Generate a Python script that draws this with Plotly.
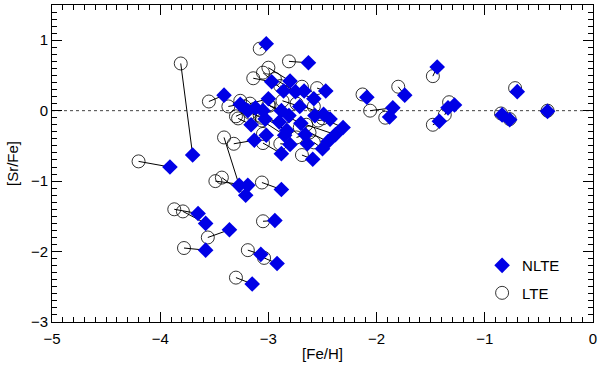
import plotly.graph_objects as go

# [Fe/H] and [Sr/Fe] for each star: LTE (open circles) and NLTE (blue diamonds)
feh_lte = [-3.81, -4.20, -3.41, -3.49, -3.43, -3.06, -3.87, -3.79, -3.56, -3.78,
           -3.30, -3.05, -3.19, -3.04, -1.48, -1.80, -1.92, -2.06, -2.13, -1.48,
           -1.37, -1.33, -0.85, -0.77, -0.72, -0.42,
           -3.08, -2.81, -3.00, -3.14, -3.55, -3.37, -3.30, -3.17, -3.05, -2.94,
           -2.69, -2.55, -2.89, -2.87, -3.00, -2.99, -3.26, -3.22, -3.17, -3.28,
           -3.06, -2.83, -2.58, -2.74, -2.54, -2.50, -2.65, -2.71, -2.58, -2.62,
           -2.74, -2.89, -3.06, -3.08, -3.05, -3.32, -3.05, -2.69]
srfe_lte = [0.67, -0.72, -0.38, -1.00, -0.95, -1.02, -1.40, -1.43, -1.80, -1.95,
            -2.37, -1.57, -1.98, -2.09, 0.49, 0.34, -0.10, 0.00, 0.23, -0.20,
            -0.06, 0.12, -0.04, -0.12, 0.32, 0.00,
            0.88, 0.70, 0.61, 0.46, 0.13, 0.06, -0.08, 0.10, 0.54, 0.45,
            0.34, 0.32, 0.35, 0.14, 0.08, 0.07, 0.14, 0.06, -0.03, -0.11,
            -0.10, -0.08, 0.06, 0.10, -0.14, -0.11, -0.20, -0.24, -0.45, -0.31,
            -0.38, -0.47, -0.14, -0.07, -0.33, -0.47, -0.46, -0.63]

feh_nlte = [-3.70, -3.91, -3.27, -3.19, -3.21, -2.88, -3.65, -3.58, -3.36, -3.58,
            -3.15, -2.94, -3.07, -2.92, -1.44, -1.74, -1.88, -1.85, -2.09, -1.42,
            -1.34, -1.28, -0.84, -0.77, -0.70, -0.42,
            -3.02, -2.63, -2.80, -2.97, -3.41, -3.26, -3.19, -3.00, -2.86, -2.75,
            -2.67, -2.47, -2.58, -2.71, -2.88, -2.81, -3.12, -3.05, -3.03, -3.16,
            -2.90, -2.70, -2.57, -2.49, -2.43, -2.31, -2.38, -2.45, -2.50, -2.64,
            -2.66, -2.80, -2.85, -2.83, -3.02, -3.13, -2.88, -2.59]
srfe_nlte = [-0.63, -0.80, -1.06, -1.06, -1.20, -1.12, -1.46, -1.60, -1.69, -1.98,
             -2.46, -1.56, -2.04, -2.17, 0.62, 0.22, -0.09, 0.04, 0.19, -0.15,
             0.04, 0.08, -0.06, -0.13, 0.27, -0.01,
             0.95, 0.68, 0.42, 0.41, 0.22, 0.09, 0.00, 0.17, 0.28, 0.27,
             0.28, 0.28, 0.17, 0.06, 0.00, -0.07, 0.04, 0.00, -0.12, -0.20,
             -0.16, -0.18, -0.07, -0.05, -0.12, -0.24, -0.34, -0.44, -0.54, -0.47,
             -0.34, -0.48, -0.35, -0.28, -0.35, -0.42, -0.61, -0.69]

x_ticks = [-5, -4, -3, -2, -1, 0]
y_ticks = [-3, -2, -1, 0, 1]

# connecting segments LTE -> NLTE
seg_x, seg_y = [], []
for a, b, c, d in zip(feh_lte, feh_nlte, srfe_lte, srfe_nlte):
    seg_x += [a, b, None]
    seg_y += [c, d, None]

fig = go.Figure()
fig.add_trace(go.Scatter(x=seg_x, y=seg_y, mode="lines",
                         line=dict(color="black", width=1), showlegend=False,
                         hoverinfo="skip"))
fig.add_trace(go.Scatter(x=feh_lte, y=srfe_lte, mode="markers", name="LTE",
                         legendrank=2, legendgroup="lte",
                         marker=dict(symbol="circle-open", size=13,
                                     color="black", line=dict(width=0.8))))
fig.add_trace(go.Scatter(x=feh_nlte, y=srfe_nlte, mode="markers", name="NLTE",
                         legendrank=1, legendgroup="nlte",
                         marker=dict(symbol="diamond", size=12, color="#0000e6",
                                     line=dict(width=0))))

fig.add_shape(type="line", x0=-5, x1=0, y0=0, y1=0, layer="below",
              line=dict(color="#444444", width=1, dash="dot"))

axis_style = dict(showgrid=False, zeroline=False, showline=True, linecolor="black",
                  linewidth=1, mirror="allticks", ticks="inside", ticklen=10,
                  tickcolor="black", tickfont=dict(size=15, color="black"),
                  automargin=False,
                  minor=dict(dtick=0.1, ticks="inside", ticklen=5, tickcolor="black",
                             showgrid=False))

fig.update_xaxes(range=[-5, 0], tickvals=x_ticks, ticklabelstandoff=3,
                 title=dict(text="[Fe/H]", standoff=2, font=dict(size=15, color="black")),
                 **axis_style)
fig.update_yaxes(range=[-3, 1.5], tickvals=y_ticks,
                 title=dict(text="[Sr/Fe]", standoff=8, font=dict(size=15, color="black")),
                 **axis_style)

fig.update_layout(
    width=600, height=367,
    margin=dict(l=52, r=7, t=5, b=45),
    plot_bgcolor="white", paper_bgcolor="white",
    font=dict(family="Liberation Sans, Arial, sans-serif", size=15, color="black"),
    legend=dict(x=0.795, y=0.23, xanchor="left", yanchor="top", bgcolor="rgba(0,0,0,0)",
                font=dict(size=15), itemwidth=30, tracegroupgap=5),
)

fig.write_html("out.html", config={"displayModeBar": False},
               post_script="document.body.style.margin='0';")
